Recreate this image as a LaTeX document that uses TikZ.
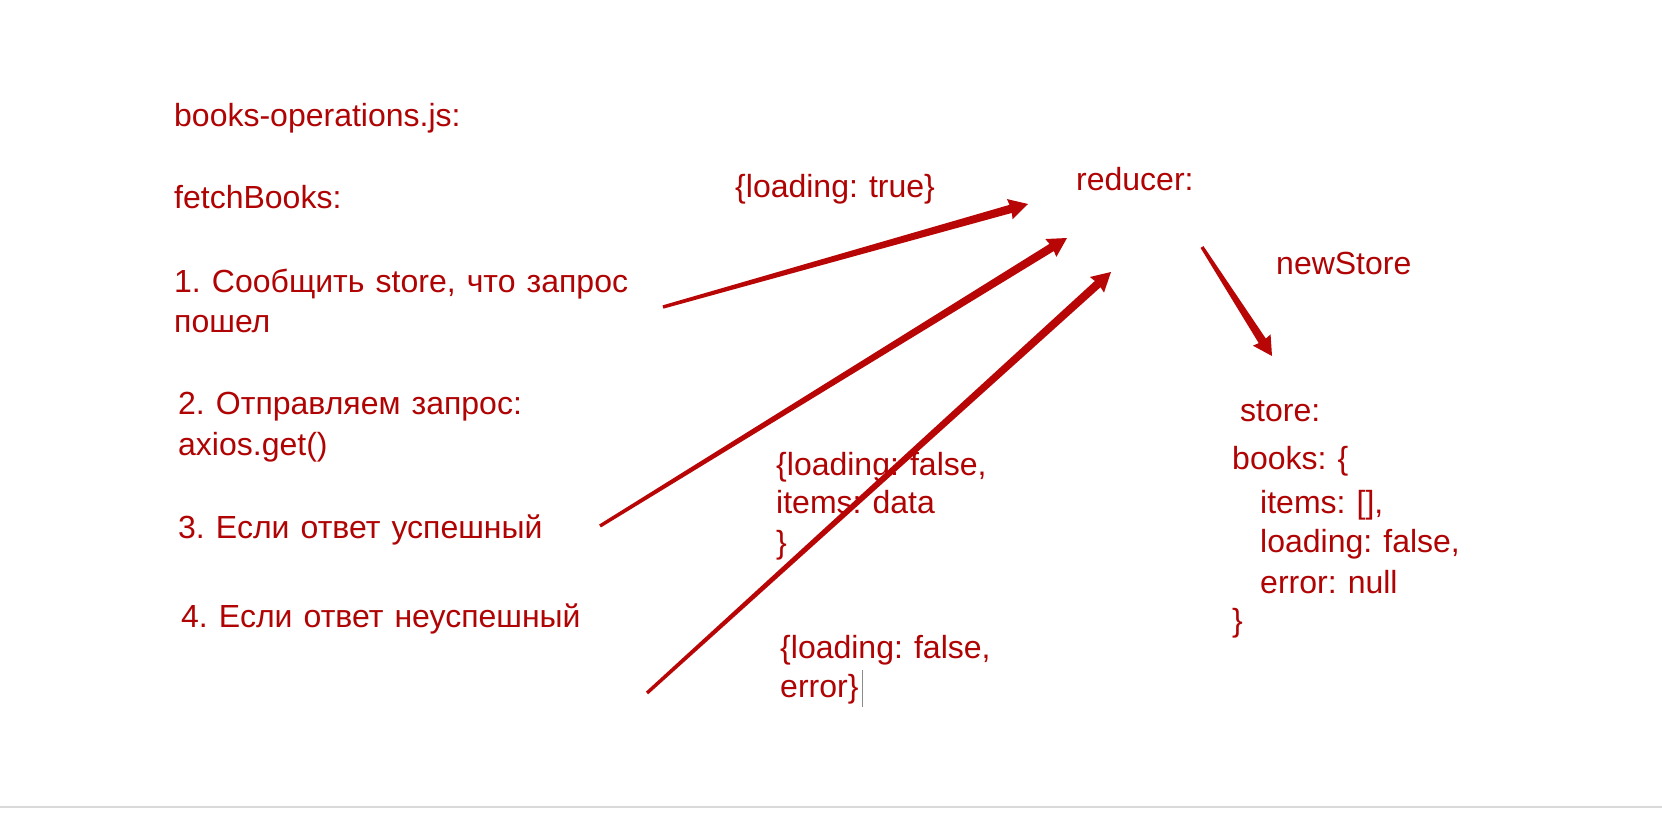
\documentclass[tikz,border=0pt]{standalone}
\usepackage{fontspec}
\setmainfont{Liberation Sans}[WordSpace=1.25]
\usepackage{tikz}
\usetikzlibrary{calc}
\definecolor{dkred}{HTML}{B00404}
\definecolor{arrred}{HTML}{B80606}
\frenchspacing

% tapered arrow from #1 to #2
\newcommand\redarrow[2]{%
  \fill[arrred] ($(#1)!1.7pt!90:(#2)$) -- ($(#2)!18pt!(#1)!4.2pt!-90:(#1)$)
    -- ($(#2)!19pt!(#1)!10.5pt!-90:(#1)$) -- (#2)
    -- ($(#2)!19pt!(#1)!10.5pt!90:(#1)$) -- ($(#2)!18pt!(#1)!4.2pt!90:(#1)$)
    -- ($(#1)!1.7pt!-90:(#2)$) -- cycle;}

\begin{document}
\begin{tikzpicture}[x=1pt, y=-1pt,
    txt/.style={anchor=base west, inner sep=0pt, text=dkred, font=\fontsize{32}{40}\selectfont}]
\useasboundingbox (0,0) rectangle (1662,818);
\fill[white] (0,0) rectangle (1662,818);
\draw[line width=2pt, black!15] (0,807) -- (1662,807);

% left column
\node[txt] (ops)    at (174,127) {books-operations.js:};
\node[txt] (fetch)  at (174,209) {fetchBooks:};
\node[txt] (stepA)  at (174,292) {1. Сообщить store, что запрос};
\node[txt] (stepAb) at (174,332) {пошел};
\node[txt] (stepB)  at (178,414) {2. Отправляем запрос:};
\node[txt] (stepBb) at (178,455) {axios.get()};
\node[txt] (stepC)  at (178,538) {3. Если ответ успешный};
\node[txt] (stepD)  at (181,627) {4. Если ответ неуспешный};

% actions
\node[txt] (actA)   at (735,198) {\{loading: true\}};
\node[txt] (actB)   at (776,475) {\{loading: false,};
\node[txt] (actBb)  at (776,513) {items: data};
\node[txt] (actBc)  at (776,553) {\}};
\node[txt] (actC)   at (780,658) {\{loading: false,};
\node[txt] (actCb)  at (780,697) {error\}};
\draw[black!45, line width=1pt] (862,670) -- (862,707);

% reducer and store
\node[txt] (red)    at (1076,191) {reducer:};
\node[txt] (newst)  at (1276,275) {newStore};
\node[txt] (store)  at (1240,421) {store:};
\node[txt] (books)  at (1232,469) {books: \{};
\node[txt] (items)  at (1260,513) {items: [],};
\node[txt] (load)   at (1260,552) {loading: false,};
\node[txt] (err)    at (1260,593) {error: null};
\node[txt] (close)  at (1232,631) {\}};

\coordinate (fromA) at (663,307);
\coordinate (fromC) at (600,526);
\coordinate (fromD) at (647,693);
\coordinate (toA)   at (1028,204);
\coordinate (toC)   at (1067,238);
\coordinate (toD)   at (1111,272);
\coordinate (fromR) at (1202,247);
\coordinate (toS)   at (1272,356);

\redarrow{fromA}{toA}
\redarrow{fromC}{toC}
\redarrow{fromD}{toD}
\redarrow{fromR}{toS}
\end{tikzpicture}
\end{document}
